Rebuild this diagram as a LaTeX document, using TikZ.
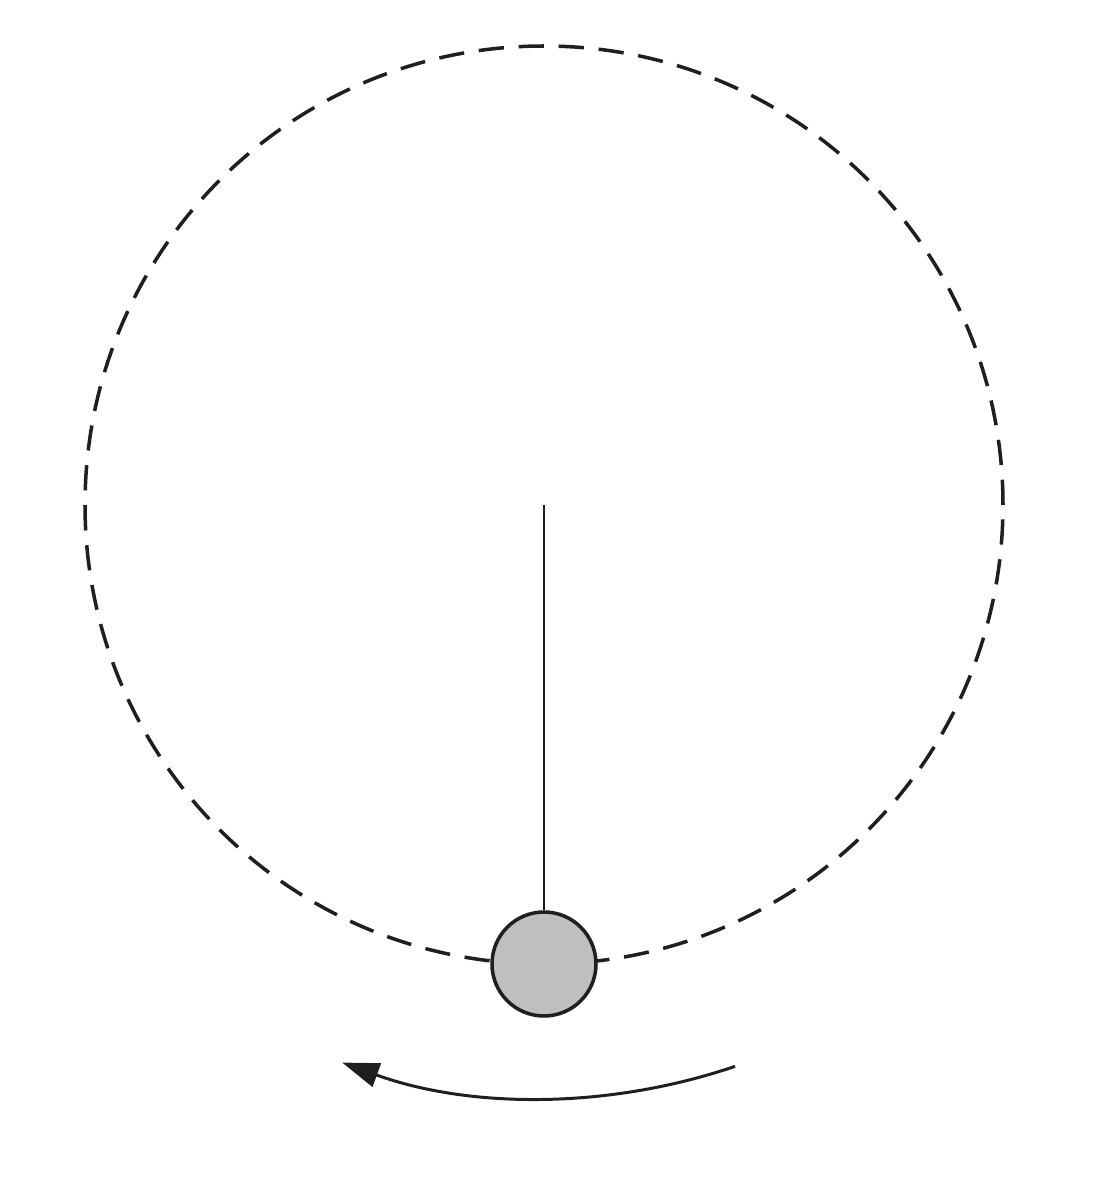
\documentclass[tikz,border=0pt]{standalone}
\usetikzlibrary{arrows.meta}
\definecolor{ballgray}{RGB}{190,191,193}
\tikzset{
  orbit/.style={line width=1pt, dash pattern=on 7.2pt off 4.2pt, black!88},
  rod/.style={line width=0.7pt, black!88},
  ball/.style={circle, draw=black!88, line width=1pt, fill=ballgray, inner sep=0pt},
  motion/.style={line width=0.85pt, black!88, -{Triangle[length=10.5pt,width=7pt]}}
}
\begin{document}
\begin{tikzpicture}
\useasboundingbox (0,0) rectangle (10.94,12);
\coordinate (c) at (5.44,6.95);
\draw[orbit] (c) circle[radius=4.59];
\node[ball, minimum size=1.04cm] (b) at (5.44,2.36) {};
\draw[rod] (c) -- (b.north);
\coordinate (a1) at ([shift={(-71.2:5.93)}]c);
\draw[motion] (a1) arc[start angle=-71.2, end angle=-109.9, radius=5.93];
\end{tikzpicture}
\end{document}
